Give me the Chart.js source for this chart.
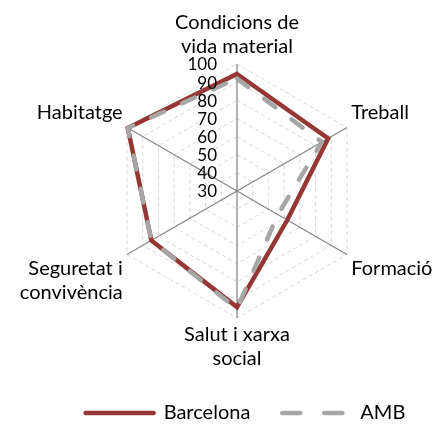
<!DOCTYPE html>
<html>
<head>
<meta charset="utf-8">
<script src="https://cdn.jsdelivr.net/npm/chart.js@4/dist/chart.umd.min.js"></script>
<style>
  html, body { margin: 0; padding: 0; background: #ffffff; }
  #wrap { position: relative; width: 437px; height: 424px; }
</style>
</head>
<body>
<div id="wrap"><canvas id="radar"></canvas></div>
<script>
// Dimensions of the index (clockwise from the top)
const categories = [
  ['Condicions de', 'vida material'],
  'Treball',
  'Formació',
  ['Salut i xarxa', 'social'],
  ['Seguretat i', 'convivència'],
  'Habitatge'
];
const barcelonaValues = [94.5, 88, 62, 94, 84.5, 99.5];
const ambValues = [92, 84, 56, 95, 84.5, 99.5];
const tickValues = [30, 40, 50, 60, 70, 80, 90, 100];

const FONT = 'Lato, "Open Sans", "DejaVu Sans", sans-serif';
const LABEL_BLOCK = 53; // two label lines (2 x 24px) plus label padding

// Scale values printed to the left of the vertical axis, over the series lines
const leftTickLabels = {
  id: 'leftTickLabels',
  afterDatasetsDraw(chart) {
    const s = chart.scales.r;
    const ctx = chart.ctx;
    ctx.save();
    ctx.font = '17px ' + FONT;
    ctx.fillStyle = '#000000';
    ctx.textAlign = 'right';
    ctx.textBaseline = 'middle';
    s.ticks.forEach(t => {
      const d = s.getDistanceFromCenterForValue(t.value);
      ctx.fillText(String(t.value), s.xCenter - 20, s.yCenter - d + 1);
    });
    ctx.restore();
  }
};

// Centre the legend row under the plot rather than under the padded area
const legendShift = {
  id: 'legendShift',
  afterLayout(chart) {
    const lg = chart.legend;
    if (lg) { lg.left += 24; lg.right += 24; }
  }
};

new Chart(document.getElementById('radar'), {
  type: 'radar',
  data: {
    labels: categories,
    datasets: [
      {
        label: 'Barcelona',
        data: barcelonaValues,
        borderColor: '#953735',
        backgroundColor: '#953735',
        borderWidth: 4.5,
        borderCapStyle: 'round',
        borderJoinStyle: 'miter',
        fill: false,
        pointRadius: 0,
        pointHoverRadius: 0,
        order: 2
      },
      {
        label: 'AMB',
        data: ambValues,
        borderColor: '#a6a6a6',
        backgroundColor: '#a6a6a6',
        borderWidth: 4.5,
        borderDash: [14, 20],
        borderCapStyle: 'round',
        borderJoinStyle: 'round',
        fill: false,
        pointRadius: 0,
        pointHoverRadius: 0,
        order: 1
      }
    ]
  },
  options: {
    responsive: true,
    maintainAspectRatio: false,
    animation: false,
    layout: { padding: { top: 11, left: 6, right: 0, bottom: 0 } },
    scales: {
      r: {
        min: 30,
        max: 100,
        // plot sized from the box height; side labels fit in the remaining width
        afterSetDimensions(scale) {
          scale.drawingArea = Math.floor(scale.height / 2) - LABEL_BLOCK;
          scale.xCenter = scale.left + 231;
        },
        afterBuildTicks(scale) {
          scale.ticks = tickValues.map(v => ({ value: v }));
        },
        ticks: { display: false },
        grid: { color: '#d9d9d9', lineWidth: 1 },
        border: { dash: [4, 3] },
        angleLines: { display: true, color: '#878787', lineWidth: 1.3 },
        pointLabels: {
          color: '#000000',
          padding: 5,
          font: { family: FONT, size: 20, lineHeight: 1.2 }
        }
      }
    },
    plugins: {
      legend: {
        position: 'bottom',
        maxHeight: 53,
        labels: {
          usePointStyle: true,
          pointStyle: 'line',
          pointStyleWidth: 68,
          padding: 32,
          color: '#000000',
          font: { family: FONT, size: 20 },
          sort: (a, b) => a.datasetIndex - b.datasetIndex,
          generateLabels(chart) {
            const items = Chart.defaults.plugins.legend.labels.generateLabels(chart);
            items.forEach(it => {
              const ds = chart.data.datasets[it.datasetIndex];
              it.strokeStyle = ds.borderColor;
              it.lineWidth = ds.borderWidth;
              it.lineDash = ds.label === 'AMB' ? [18, 24] : [];
              it.lineCap = 'round';
            });
            return items;
          }
        }
      },
      tooltip: { enabled: false }
    }
  },
  plugins: [leftTickLabels, legendShift]
});
</script>
</body>
</html>
